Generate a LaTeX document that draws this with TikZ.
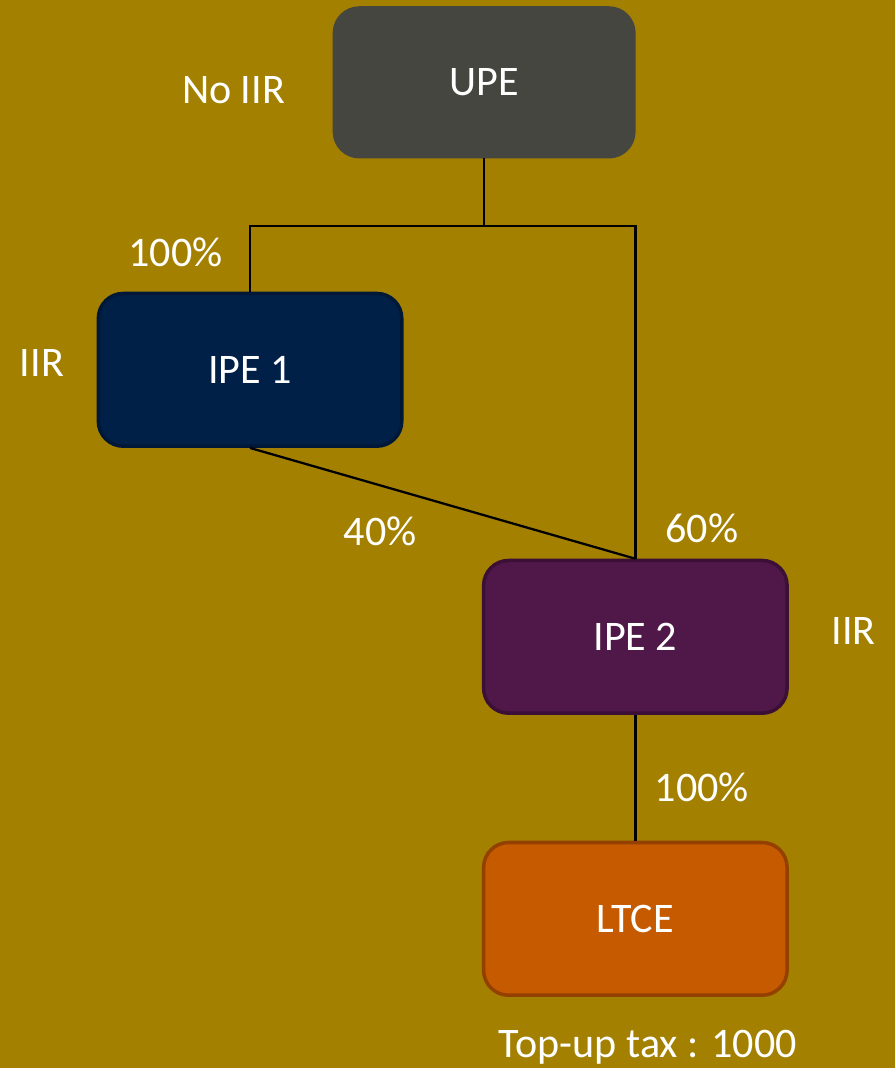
\documentclass[tikz,border=0pt]{standalone}
\usepackage{fontspec}
\setmainfont{Carlito}
\usetikzlibrary{positioning}
\usetikzlibrary{calc}
\definecolor{backdrop}{HTML}{A38000}
\definecolor{upefill}{HTML}{464641}
\definecolor{ipeonefill}{HTML}{002048}
\definecolor{ipeoneline}{HTML}{001838}
\definecolor{ipetwofill}{HTML}{4F1848}
\definecolor{ipetwoline}{HTML}{3C1036}
\definecolor{ltcefill}{HTML}{C55A00}
\definecolor{ltceline}{HTML}{944000}
\tikzset{
    entity/.style = {rounded corners=0.5cm, text=white,
                     minimum width=6.08cm, minimum height=3.06cm,
                     font=\fontsize{24}{29}\selectfont, line width=2pt
    },
    tag/.style = {text=white, font=\fontsize{24}{29}\selectfont},
    link/.style = {draw=black, line width=1.3pt},
}
\begin{document}
\begin{tikzpicture}
        \fill[backdrop] (0,0) rectangle (17.94,-21.4);
        \node (upe) [entity, fill=upefill, draw=upefill,
                     minimum width=6.0cm, minimum height=2.98cm] at (9.70,-1.65) {UPE};
        \node (ipe1) [entity, fill=ipeonefill, draw=ipeoneline] at (5.01,-7.41) {IPE 1};
        \node (ipe2) [entity, fill=ipetwofill, draw=ipetwoline] at (12.73,-12.76) {IPE 2};
        \node (ltce) [entity, fill=ltcefill, draw=ltceline, below=2.52cm of ipe2] {LTCE};
        % ownership lines
        \coordinate (split) at ($(upe.south)+(0,-1.36)$);
        \draw[link] (upe.south) -- (split);
        \draw[link] (ipe1.north) |- (split) -| (ipe2.north);
        \draw[link] (ipe1.south) -- (ipe2.north);
        \draw[link] (ipe2.south) -- (ltce.north);
        % labels
        \node (upeiir) [tag] at (4.68,-1.80) {No IIR};
        \node (shareone) [tag] at (3.52,-5.06) {100\%};
        \node (ipeoneiir) [tag] at (0.84,-7.28) {IIR};
        \node (sharefour) [tag] at (7.62,-10.64) {40\%};
        \node (sharesix) [tag] at (14.06,-10.58) {60\%};
        \node (ipetwoiir) [tag] at (17.10,-12.64) {IIR};
        \node (sharefull) [tag] at (14.06,-15.78) {100\%};
        \node (topup) [tag] at (12.98,-20.98) {Top-up tax : 1000};
\end{tikzpicture}
\end{document}
